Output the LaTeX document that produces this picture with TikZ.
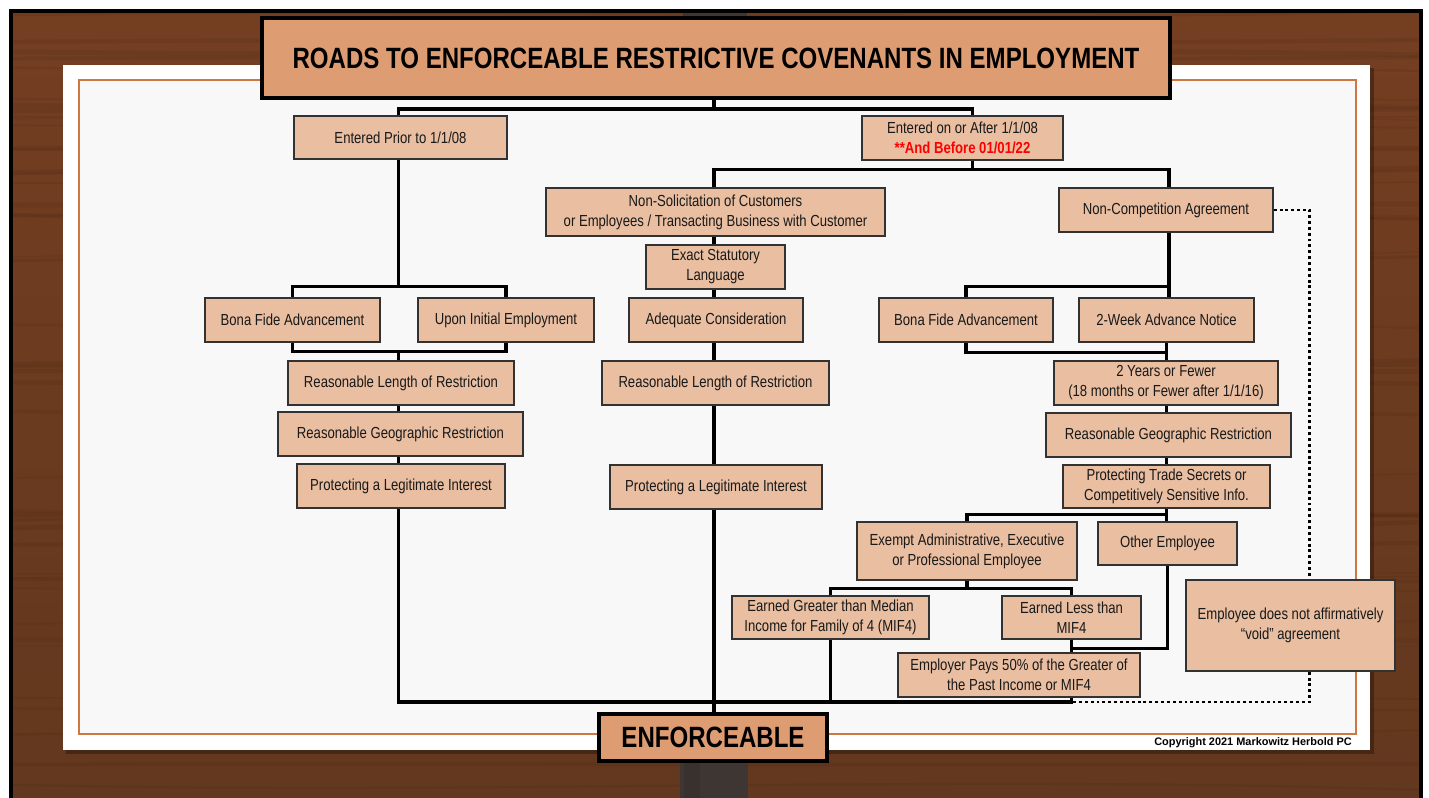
\documentclass[tikz,border=0pt]{standalone}
\usepackage{fontspec}
\setmainfont{Liberation Sans}[FakeStretch=0.82]
\newfontfamily\cfont{Liberation Sans}
\usetikzlibrary{calc}
\definecolor{woodtop}{RGB}{116,62,33}
\definecolor{woodbot}{RGB}{98,56,30}
\definecolor{wooddark}{RGB}{70,36,16}
\definecolor{boxfill}{RGB}{233,190,161}
\definecolor{titlefill}{RGB}{221,156,114}
\definecolor{boxline}{RGB}{50,50,50}
\definecolor{boxtext}{RGB}{25,25,25}
\definecolor{paperin}{RGB}{248,248,248}
\definecolor{trim}{RGB}{205,120,65}
\definecolor{post}{RGB}{62,54,50}
\definecolor{redtxt}{RGB}{255,0,0}
\pgfdeclarelayer{bg}
\pgfdeclarelayer{lines}
\pgfsetlayers{bg,lines,main}
% \mybox[style]{name}{x1}{y1}{x2}{y2}{text}  (pixel coordinates of the corners)
\newcommand\mybox[7][bx]{\node[#1, minimum width={0.75pt*(#5-#3)}, minimum height={0.75pt*(#6-#4)}] (#2) at ({(#3+#5)/2},{(#4+#6)/2}) {#7};}
\begin{document}
\begin{tikzpicture}[x=0.75pt,y=-0.75pt,
  bx/.style={draw=boxline, line width=1.1pt, fill=boxfill, inner sep=0pt, align=center,
    text=boxtext, font=\fontsize{12}{15}\selectfont},
  bigbox/.style={draw=black, line width=3pt, fill=titlefill, inner sep=0pt, align=center,
    font=\fontsize{22}{26}\selectfont\bfseries},
  conn/.style={draw=black, line width=2.5pt, line join=miter},
  dotline/.style={draw=black, line width=2.2pt, dash pattern=on 2.2pt off 2.2pt}]
\useasboundingbox (0,0) rectangle (1429,798);

% ---------- nodes ----------
\mybox[bigbox]{title}{262}{18}{1170}{98}{ROADS TO ENFORCEABLE RESTRICTIVE COVENANTS IN EMPLOYMENT}
\mybox{prior}{294}{116}{507}{159}{Entered Prior to 1/1/08}
\mybox{after}{862}{116}{1063}{160}{Entered on or After 1/1/08\\{\color{redtxt}\bfseries **And Before 01/01/22}}
\mybox{nonsol}{546}{188}{885}{236}{Non-Solicitation of Customers\\or Employees / Transacting Business with Customer}
\mybox{noncomp}{1059}{188}{1273}{232}{Non-Competition Agreement}
\mybox{exact}{646}{245}{785}{289}{Exact Statutory\\Language}
\mybox{bfal}{205}{298}{380}{342}{Bona Fide Advancement}
\mybox{uie}{418}{298}{594}{342}{Upon Initial Employment}
\mybox{adeq}{629}{298}{803}{342}{Adequate Consideration}
\mybox{bfar}{879}{298}{1053}{342}{Bona Fide Advancement}
\mybox{wan}{1079}{298}{1254}{342}{2-Week Advance Notice}
\mybox{rlrl}{288}{361}{514}{405}{Reasonable Length of Restriction}
\mybox{rlrm}{602}{361}{829}{405}{Reasonable Length of Restriction}
\mybox{yf}{1054}{361}{1278}{405}{2 Years or Fewer\\(18 months or Fewer after 1/1/16)}
\mybox{rgrl}{278}{412}{523}{456}{Reasonable Geographic Restriction}
\mybox{rgrr}{1046}{413}{1291}{457}{Reasonable Geographic Restriction}
\mybox{plil}{297}{464}{505}{508}{Protecting a Legitimate Interest}
\mybox{plim}{610}{465}{822}{509}{Protecting a Legitimate Interest}
\mybox{pts}{1063}{465}{1270}{508}{Protecting Trade Secrets or\\Competitively Sensitive Info.}
\mybox{exempt}{857}{522}{1077}{580}{Exempt Administrative, Executive\\or Professional Employee}
\mybox{other}{1098}{522}{1237}{565}{Other Employee}
\mybox{eg}{732}{596}{929}{639}{Earned Greater than Median\\Income for Family of 4 (MIF4)}
\mybox{el}{1002}{596}{1141}{639}{Earned Less than\\MIF4}
\mybox{employer}{898}{653}{1140}{697}{Employer Pays 50\% of the Greater of\\the Past Income or MIF4}
\mybox{empl}{1186}{580}{1395}{671}{Employee does not affirmatively\\“void” agreement}
\mybox[bigbox]{enf}{599}{714}{827}{761}{ENFORCEABLE}
\node[anchor=base east, inner sep=0pt, font=\cfont\fontsize{8.2}{10}\selectfont\bfseries] (copy) at (1352,745) {Copyright 2021 Markowitz Herbold PC};

% ---------- background ----------
\begin{pgfonlayer}{bg}
\fill[white] (0,0) rectangle (1429,798);
\shade[top color=woodtop, bottom color=woodbot] (10,10) rectangle (1422,798);
\pgfmathsetseed{7}
\foreach \i in {1,...,45}{
  \pgfmathsetmacro\yy{12+rnd*785}
  \pgfmathsetmacro\dy{rand*12}
  \pgfmathsetmacro\lw{0.8+rnd*3}
  \draw[wooddark, opacity=0.14, line width=\lw pt] (10,\yy) .. controls (480,\yy+\dy) and (950,\yy-\dy) .. (1422,\yy+0.5*\dy);
}
\fill[post] (683,11) rectangle (747,20);
\fill[post] (680,750) rectangle (748,798);
\fill[black, opacity=0.08] (684,750) rectangle (700,798);
\draw[black, line width=3pt] (11,798) -- (11,11) -- (1421,11) -- (1421,798);
\fill[black, opacity=0.3] (66,68) rectangle (1374,754);
\fill[white] (63,65) rectangle (1370,750);
\fill[paperin] (79,80) rectangle (1356,734);
\draw[trim, line width=1.3pt] (79,80) rectangle (1356,734);
\end{pgfonlayer}

% ---------- connectors ----------
\begin{pgfonlayer}{lines}
% title to first level
\coordinate (j1) at ($(title.south)+(-2,9)$);
\draw[conn] ($(title.south)+(-2,0)$) -- (j1);
\draw[conn] ($(prior.north)+(-2,0)$) |- (j1) -| ($(after.north)+(10,0)$);
% after to second level
\coordinate (j2) at ($(after.south)+(10,9)$);
\draw[conn] ($(after.south)+(10,0)$) -- (j2);
\draw[conn] ($(nonsol.north)+(-1.5,0)$) |- (j2) -| ($(noncomp.north)+(3,0)$);
% middle spine
\coordinate (m0) at ($(nonsol.south)+(-1.5,0)$);
\draw[conn] (m0) -- (m0 |- enf.north);
% left column
\coordinate (l0) at ($(prior.south)+(-2,0)$);
\coordinate (j3) at ($(bfal.north)+(0,-11)$);
\draw[conn] (l0) -- (l0 |- j3);
\draw[conn] (bfal.north) -- (j3) -| (uie.north);
\coordinate (j4) at ($(bfal.south)+(0,9)$);
\draw[conn] (bfal.south) -- (j4) -| (uie.south);
\coordinate (bus) at ($(enf.north)+(0,-10)$);
\draw[conn] (l0 |- j4) -- (l0 |- bus) -| (el.south |- employer.south);
% right column
\coordinate (r0) at ($(noncomp.south)+(3,0)$);
\coordinate (j5) at ($(bfar.north)+(0,-11)$);
\draw[conn] (r0) -- (r0 |- wan.north);
\draw[conn] (bfar.north) |- (r0 |- j5);
\coordinate (j6) at ($(bfar.south)+(0,10)$);
\draw[conn] (bfar.south) -- (j6) -| (wan.south);
\draw[conn] (wan.south |- j6) -- (wan.south |- other.north);
\coordinate (j7) at ($(pts.south)+(0,6)$);
\draw[conn] (j7) -| (exempt.north);
\coordinate (j8) at ($(exempt.south)+(0,8)$);
\draw[conn] (exempt.south) -- (j8);
\draw[conn] (eg.north) -- (eg.north |- j8) -- (el.north |- j8) -- (el.north);
\draw[conn] (el.south) -- (el.south |- employer.north);
\draw[conn] (eg.south) -- (eg.south |- bus);
\draw[conn] (other.south) |- ($(el.south)+(0,9)$);
% dotted path
\coordinate (d1) at ($(noncomp.east)+(36,0)$);
\draw[dotline] (noncomp.east) -- (d1) -- (d1 |- empl.north);
\draw[dotline] (d1 |- empl.south) -- (d1 |- bus) -- (el.south |- bus);
\end{pgfonlayer}
\end{tikzpicture}
\end{document}
